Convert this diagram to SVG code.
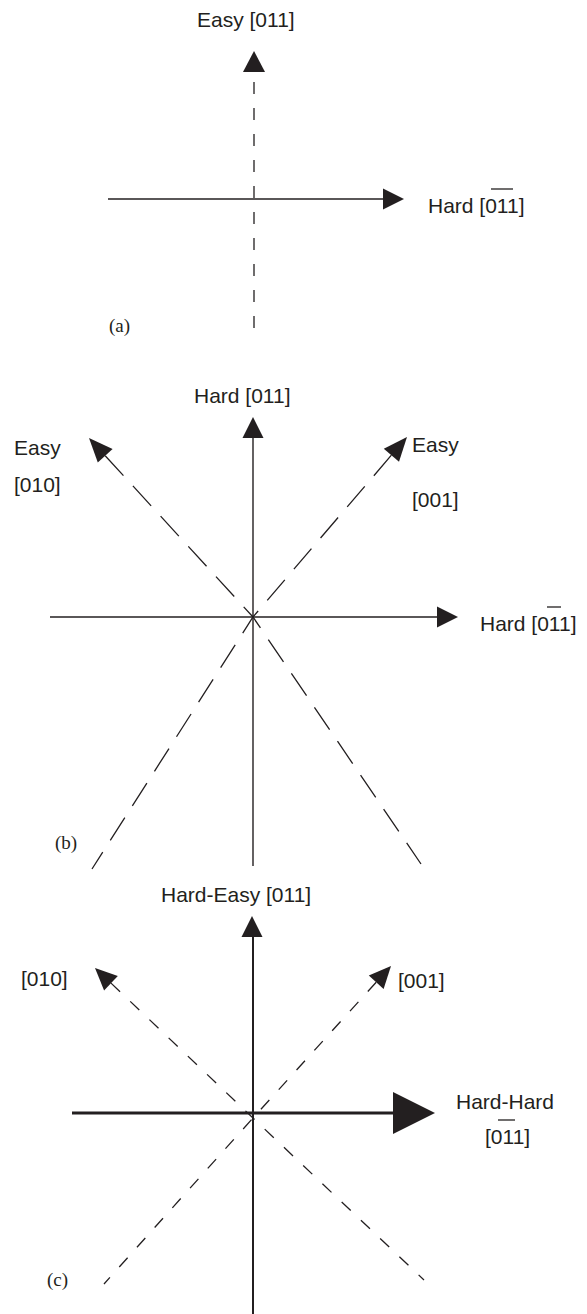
<svg xmlns="http://www.w3.org/2000/svg" width="587" height="1314" viewBox="0 0 587 1314">
<style>
.t{font-family:"Liberation Sans",Arial,sans-serif;font-size:21px;fill:#231f20}
.s{font-family:"Liberation Serif","Times New Roman",serif;font-size:19px;fill:#231f20}
.ln{stroke:#231f20;stroke-width:1.4;fill:none}
.d1{stroke:#231f20;stroke-width:1.3;fill:none;stroke-dasharray:12 14}
.d2{stroke:#231f20;stroke-width:1.3;fill:none;stroke-dasharray:27 14}
.d3{stroke:#231f20;stroke-width:1.3;fill:none;stroke-dasharray:12.5 14}
.ah{fill:#231f20;stroke:none}
.ol{stroke:#231f20;stroke-width:1.3}
</style>
<rect width="587" height="1314" fill="#fff"/>
<g id="connectors">
  <!-- panel a -->
  <line class="d1" x1="254" y1="82" x2="254" y2="335"/>
  <polygon class="ah" points="254,51 243,72 265,72"/>
  <line class="ln" x1="108" y1="199" x2="385" y2="199"/>
  <polygon class="ah" points="383,188.5 404,199 383,209.5"/>
  <!-- panel b -->
  <line class="ln" x1="253" y1="436" x2="253" y2="866"/>
  <polygon class="ah" points="253,417 242.5,438 263.5,438"/>
  <line class="ln" x1="50" y1="617" x2="439" y2="617"/>
  <polygon class="ah" points="437,606.5 458,617 437,627.5"/>
  <polyline class="d2" points="105.2,455.7 253,617 421,864"/>
  <polygon class="ah" points="89,438 112.6,449 97.8,462.5"/>
  <polyline class="d2" points="391.4,455.2 253,617 92,869"/>
  <polygon class="ah" points="407,437 399,461.7 383.8,448.7"/>
  <!-- panel c -->
  <line x1="253" y1="935" x2="253" y2="1314" stroke="#231f20" stroke-width="2"/>
  <polygon class="ah" points="252,916 241.5,937 262.5,937"/>
  <line x1="72" y1="1113" x2="396" y2="1113" stroke="#231f20" stroke-width="3"/>
  <polygon class="ah" points="393,1092 435,1113 393,1134"/>
  <polyline class="d3" points="111,983.1 253,1118 424,1280"/>
  <polygon class="ah" points="95,968 117.8,975.9 104.1,990.4"/>
  <polyline class="d3" points="376.2,982.3 253,1118 104,1284"/>
  <polygon class="ah" points="391,966 383.6,989 368.8,975.6"/>
</g>
<g id="panel-a-labels">
  <g id="a-easy"><text class="t" x="197" y="27">Easy [011]</text></g>
  <g id="a-hard"><text class="t" x="428" y="213">Hard [011]</text><line class="ol" x1="491" y1="189" x2="513" y2="189"/></g>
  <g id="a-tag"><text class="s" x="109" y="332">(a)</text></g>
</g>
<g id="panel-b-labels">
  <g id="b-hard-top"><text class="t" x="194" y="403">Hard [011]</text></g>
  <g id="b-easy-010"><text class="t" x="14" y="455">Easy</text><text class="t" x="14" y="492">[010]</text></g>
  <g id="b-easy-001"><text class="t" x="412" y="452">Easy</text><text class="t" x="412" y="507">[001]</text></g>
  <g id="b-hard-right"><text class="t" x="480" y="631">Hard [011]</text><line class="ol" x1="547" y1="607" x2="561" y2="607"/></g>
  <g id="b-tag"><text class="s" x="55" y="849">(b)</text></g>
</g>
<g id="panel-c-labels">
  <g id="c-hard-easy"><text class="t" x="161" y="902">Hard-Easy [011]</text></g>
  <g id="c-010"><text class="t" x="21" y="986">[010]</text></g>
  <g id="c-001"><text class="t" x="398" y="988">[001]</text></g>
  <g id="c-hard-hard"><text class="t" x="456" y="1109">Hard-Hard</text><text class="t" x="485" y="1144">[011]</text><line class="ol" x1="498" y1="1120" x2="515" y2="1120"/></g>
  <g id="c-tag"><text class="s" x="47" y="1286">(c)</text></g>
</g>
</svg>
